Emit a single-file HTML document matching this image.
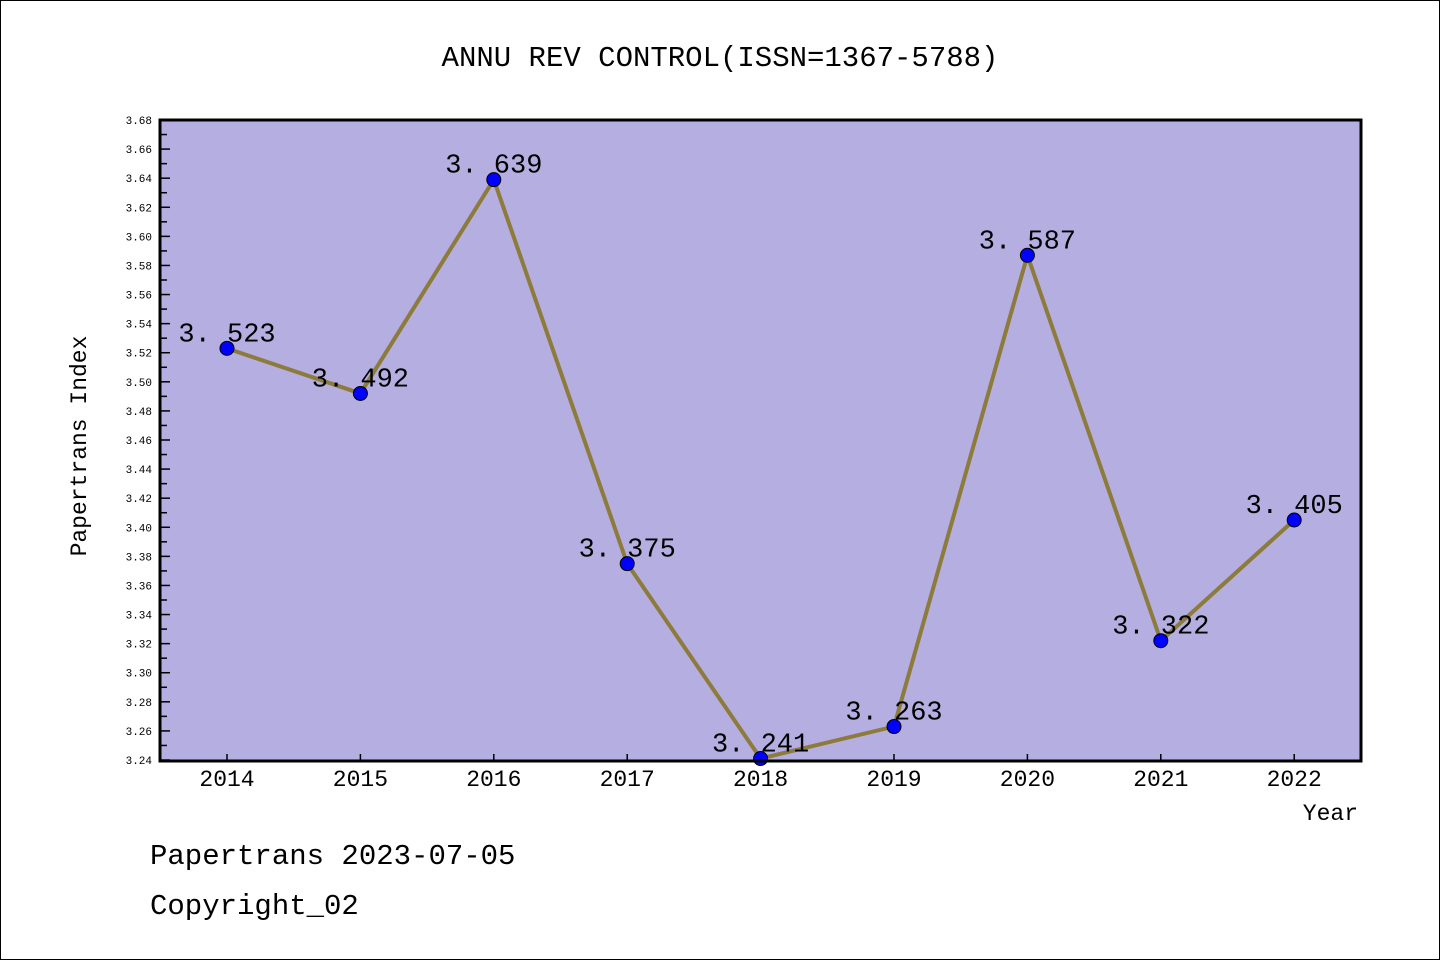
<!DOCTYPE html>
<html><head><meta charset="utf-8"><style>
html,body{margin:0;padding:0;background:#fff}
svg{display:block}
text{font-family:"Liberation Mono","Noto Sans CJK SC",monospace;fill:#000}
</style></head><body>
<svg id="chart" width="1440" height="960" xmlns="http://www.w3.org/2000/svg">
<rect x="0.5" y="0.5" width="1439" height="959" fill="#fff" stroke="#000"/>
<text x="720" y="66" font-size="29" text-anchor="middle">ANNU REV CONTROL(ISSN=1367-5788)</text>
<rect x="160" y="120" width="1201" height="641" fill="#b4aee1"/>
<g id="yaxis"></g>
<g id="xaxis"></g>
<g id="series"></g>
<rect x="160" y="120" width="1201" height="641" fill="none" stroke="#000" stroke-width="3"/>
<text x="86" y="446" font-size="23" text-anchor="middle" transform="rotate(-90 86 446)">Papertrans Index</text>
<text x="1358" y="820" font-size="23" text-anchor="end">Year</text>
<text x="150" y="864" font-size="29">Papertrans 2023-07-05</text>
<text x="150" y="914" font-size="29">Copyright_02</text>
</svg>
<script>
const years = [2014,2015,2016,2017,2018,2019,2020,2021,2022];
const values = [3.523,3.492,3.639,3.375,3.241,3.263,3.587,3.322,3.405];
const yTicks = ["3.24","3.26","3.28","3.30","3.32","3.34","3.36","3.38","3.40","3.42","3.44","3.46","3.48","3.50","3.52","3.54","3.56","3.58","3.60","3.62","3.64","3.66","3.68"];
const NS="http://www.w3.org/2000/svg";
const yMin=3.24,yMax=3.68;
function yS(v){return 760-(v-yMin)/(yMax-yMin)*640;}
function xS(i){return 227+i*133.4;}
function mk(t,a,p){const e=document.createElementNS(NS,t);for(const k in a)e.setAttribute(k,a[k]);p.appendChild(e);return e;}
const ya=document.getElementById('yaxis');
yTicks.forEach((t,i)=>{
  const v=parseFloat(t),y=yS(v);
  const l=mk('line',{x1:160,x2:170,y1:y,y2:y,stroke:'#000','stroke-width':1.5},ya);
  
  
  const tx=mk('text',{x:152,y:y+4,'font-size':11,'text-anchor':'end'},ya);
  tx.textContent=t;
  
  
  if(i<yTicks.length-1){
    const ym=yS(v+0.01);
    const m=mk('line',{x1:160,x2:167,y1:ym,y2:ym,stroke:'#000','stroke-width':1.5},ya);
    
    
  }
});
const xa=document.getElementById('xaxis');
years.forEach((yr,i)=>{
  const x=xS(i);
  const l=mk('line',{x1:x,x2:x,y1:760,y2:754,stroke:'#000','stroke-width':1.5},xa);
  
  
  const tx=mk('text',{x:x,y:786,'font-size':23,'text-anchor':'middle'},xa);
  tx.textContent=yr;
  
  
});
const sg=document.getElementById('series');
const pts=values.map((v,i)=>xS(i)+','+yS(v)).join(' ');
const pl=mk('polyline',{points:pts,fill:'none',stroke:'#8c7b3a','stroke-width':4,'stroke-linejoin':'round'},sg);


values.forEach((v,i)=>{
  const c=mk('circle',{cx:xS(i),cy:yS(v),r:7,fill:'#0000ff',stroke:'#000','stroke-width':1},sg);
  
  
  const t=mk('text',{x:xS(i),y:yS(v)-7,'font-size':27,'text-anchor':'middle'},sg);
  t.textContent=v.toFixed(3).replace('.','. ');
  
  
});
</script>
</body></html>
